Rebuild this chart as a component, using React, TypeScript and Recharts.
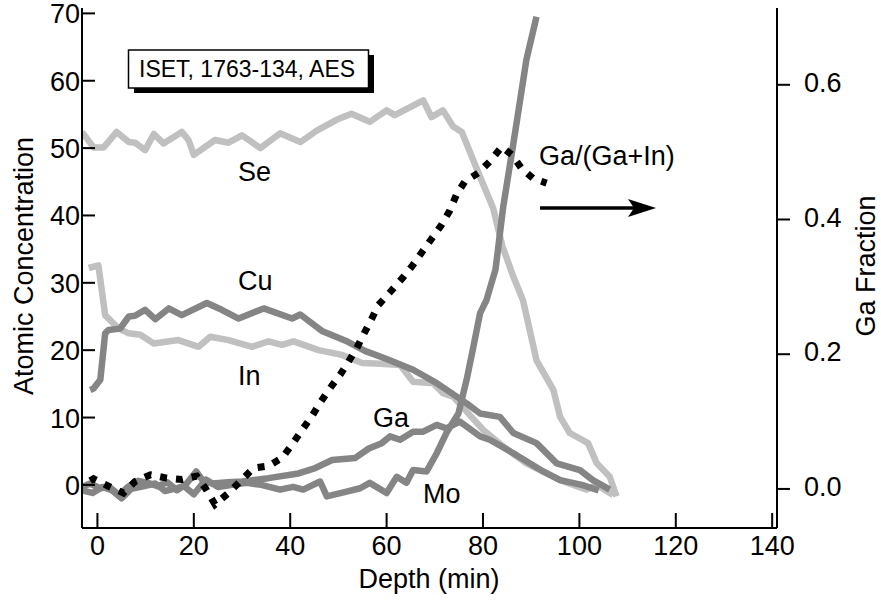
import { Line, LineChart, XAxis, YAxis } from "recharts";

const FONT = "'Liberation Sans', Arial, Helvetica, sans-serif";
const LIGHT = "#c0c0c0";
const DARK = "#858585";

const depthTicks = [0, 20, 40, 60, 80, 100, 120, 140];
const concTicks = [0, 10, 20, 30, 40, 50, 60, 70];
const fracTicks = [0, 0.2, 0.4, 0.6];

const seDepth = [-3.2, -0.8, 1.3, 4.0, 6.5, 7.8, 9.9, 11.7, 13.7, 17.5, 18.9, 20.0, 24.4, 27.2, 30.0, 33.8, 37.9, 42.1, 45.5, 49.6, 52.7, 56.5, 60.0, 61.7, 67.6, 69.3, 71.7, 73.8, 75.6, 79.4, 82.1, 84.0, 86.3, 88.3, 91.1, 94.6, 96.0, 98.0, 101.8, 103.6, 106.3, 107.7];
const seConc = [52.4, 50.1, 50.1, 52.4, 50.9, 50.8, 49.7, 52.1, 50.7, 52.4, 51.2, 49.0, 51.2, 50.8, 51.9, 50.0, 52.2, 50.9, 52.6, 54.2, 55.1, 53.9, 55.6, 54.9, 57.1, 54.6, 55.6, 53.2, 52.4, 45.7, 41.1, 35.5, 30.9, 27.4, 18.5, 14.1, 10.1, 7.7, 6.2, 3.2, 1.2, -1.7];

const cuDepth = [-1.5, -0.8, 0.6, 1.6, 2.3, 4.7, 6.5, 7.8, 9.9, 12.0, 14.8, 17.5, 22.7, 25.8, 29.3, 34.5, 40.4, 42.1, 46.7, 51.5, 55.5, 60.0, 65.5, 70.4, 76.6, 79.4, 83.5, 86.3, 91.1, 95.3, 100.1, 102.8, 106.3];
const cuConc = [14.1, 14.3, 15.6, 22.5, 23.0, 23.2, 25.0, 25.1, 26.0, 24.6, 26.2, 25.2, 27.0, 26.0, 24.7, 26.2, 24.7, 25.3, 22.8, 21.4, 19.9, 18.7, 17.1, 15.1, 12.1, 10.6, 10.1, 7.7, 6.2, 3.2, 2.2, 0.7, -0.7];

const inDepth = [-1.8, 0.2, 1.6, 4.4, 6.5, 8.9, 11.7, 16.8, 21.0, 23.4, 27.2, 32.1, 35.5, 38.3, 40.7, 45.9, 50.7, 54.9, 58.8, 62.8, 65.5, 69.7, 71.7, 73.8, 80.0, 84.2, 89.0, 91.8, 96.0, 101.5, 103.6, 107.0];
const inConc = [32.2, 32.6, 25.2, 23.2, 22.5, 22.3, 21.0, 21.5, 20.5, 22.0, 21.5, 20.5, 21.3, 20.8, 21.3, 20.0, 19.3, 18.1, 18.0, 17.8, 15.3, 15.1, 13.6, 13.1, 8.2, 5.7, 3.2, 2.2, 0.7, -0.7, 0.0, -1.5];

const gaDepth = [-3.2, -1.5, 0.5, 2.5, 4.5, 6.5, 8.5, 10.5, 12.5, 14.5, 16.5, 18.5, 20.5, 22.0, 24.0, 27.0, 30.0, 35.5, 41.7, 45.2, 48.7, 53.5, 56.3, 59.0, 60.7, 62.8, 65.5, 67.6, 70.4, 72.4, 75.2, 79.4, 81.4, 86.3, 89.0, 92.5, 96.0, 100.5, 104.0];
const gaConc = [-0.3, 0.2, -0.5, -0.3, -1.5, -0.2, 0.6, 0.3, -0.2, 0.4, -0.8, 0.2, 2.0, 0.5, 0.2, 0.4, 0.5, 1.0, 1.7, 2.5, 3.7, 4.0, 5.4, 6.2, 7.2, 6.7, 7.9, 7.9, 8.9, 8.4, 9.4, 7.2, 6.7, 4.7, 3.5, 2.0, 0.7, 0.0, -0.8];

const moDepth = [-3.2, -1.0, 1.0, 3.0, 5.0, 7.0, 9.5, 12.0, 14.0, 16.0, 18.0, 20.0, 22.5, 25.0, 28.0, 31.0, 34.0, 37.9, 40.6, 42.7, 46.2, 47.6, 51.7, 54.5, 56.5, 60.0, 62.1, 64.1, 65.5, 68.3, 70.4, 72.4, 74.9, 76.6, 78.0, 79.4, 80.7, 82.6, 84.2, 86.3, 87.7, 89.0, 91.1];
const moConc = [-0.8, -1.2, -0.3, -0.8, -2.0, -0.6, -0.2, 0.2, -0.9, -0.6, -0.2, -1.4, 0.8, -0.3, 0.0, 0.3, 0.0, -0.7, -0.3, -0.7, 0.5, -1.7, -1.0, -0.5, 0.3, -1.2, 1.2, 0.3, 2.2, 2.0, 4.7, 7.7, 10.6, 15.6, 20.5, 25.5, 27.4, 32.0, 41.3, 50.7, 57.1, 63.1, 69.5];

const fracDepth = [-1.5, -0.8, 2.3, 5.4, 7.8, 11.0, 14.4, 17.5, 20.6, 22.4, 24.4, 27.2, 30.0, 32.4, 35.5, 38.3, 40.4, 42.5, 44.5, 46.2, 48.3, 50.4, 52.1, 53.8, 55.2, 57.0, 58.3, 60.7, 63.4, 65.4, 67.4, 69.3, 71.3, 73.1, 74.5, 76.2, 79.0, 81.4, 83.9, 86.0, 88.0, 90.4, 93.2];
const gaFraction = [0.012, 0.015, 0.004, -0.006, 0.011, 0.021, 0.016, 0.014, 0.019, 0.001, -0.023, -0.006, 0.014, 0.031, 0.034, 0.046, 0.066, 0.088, 0.108, 0.128, 0.15, 0.17, 0.189, 0.209, 0.229, 0.254, 0.273, 0.292, 0.314, 0.332, 0.352, 0.371, 0.391, 0.413, 0.437, 0.456, 0.469, 0.486, 0.508, 0.496, 0.476, 0.461, 0.454];

const pts = (xs: number[], ys: number[]) => xs.map((x, i) => ({ depth: x, value: ys[i] }));

const FS = 27;

function BottomTick({ x, y, payload }: any) {
  return (
    <g>
      <line x1={x} x2={x} y1={y} y2={y - 15} stroke="#000" strokeWidth={2} />
      <text x={x} y={y + 27} textAnchor="middle" fontSize={FS} fontFamily={FONT} fill="#000">
        {payload.value}
      </text>
    </g>
  );
}

function TopTick({ x, y }: any) {
  return <line x1={x} x2={x} y1={y} y2={y + 15} stroke="#000" strokeWidth={2} />;
}

function LeftTick({ x, y, payload }: any) {
  return (
    <g>
      <line x1={x} x2={x + 13} y1={y} y2={y} stroke="#000" strokeWidth={2} />
      <text x={x - 2} y={y + 10} textAnchor="end" fontSize={FS} fontFamily={FONT} fill="#000">
        {payload.value}
      </text>
    </g>
  );
}

function RightTick({ x, y, payload }: any) {
  return (
    <g>
      <line x1={x} x2={x + 13} y1={y} y2={y} stroke="#000" strokeWidth={2} />
      <text x={x + 27} y={y + 7} textAnchor="start" fontSize={FS} fontFamily={FONT} fill="#000">
        {payload.value.toFixed(1)}
      </text>
    </g>
  );
}

const txt = { fontSize: FS, fontFamily: FONT, fill: "#000" };

export default function App() {
  return (
    <div style={{ position: "absolute", left: 0, top: 0, width: 881, height: 601, background: "#fff" }}>
      <LineChart width={881} height={601} margin={{ top: 8, right: 0, bottom: 0, left: 0 }}>
        <XAxis
          dataKey="depth"
          type="number"
          domain={[-3.2, 141]}
          ticks={depthTicks}
          allowDataOverflow
          height={73}
          tickLine={false}
          tickSize={0}
          tickMargin={0}
          tick={<BottomTick />}
          axisLine={{ stroke: "#000", strokeWidth: 2 }}
        />
        <XAxis
          xAxisId="top"
          orientation="top"
          type="number"
          domain={[-3.2, 141]}
          ticks={depthTicks}
          allowDataOverflow
          height={0}
          tickLine={false}
          tickSize={0}
          tickMargin={0}
          tick={<TopTick />}
          axisLine={{ stroke: "#000", strokeWidth: 2 }}
        />
        <YAxis
          yAxisId="left"
          type="number"
          domain={[-6.4, 70.8]}
          ticks={concTicks}
          allowDataOverflow
          width={82}
          tickLine={false}
          tickSize={0}
          tickMargin={0}
          tick={<LeftTick />}
          axisLine={{ stroke: "#000", strokeWidth: 2 }}
        />
        <YAxis
          yAxisId="right"
          orientation="right"
          type="number"
          domain={[-0.058, 0.714]}
          ticks={fracTicks}
          allowDataOverflow
          width={104}
          tickLine={false}
          tickSize={0}
          tickMargin={0}
          tick={<RightTick />}
          axisLine={{ stroke: "#000", strokeWidth: 2 }}
        />
        <Line yAxisId="left" data={pts(seDepth, seConc)} dataKey="value" stroke={LIGHT} strokeWidth={6.5} dot={false} strokeLinejoin="round" isAnimationActive={false} />
        <Line yAxisId="left" data={pts(inDepth, inConc)} dataKey="value" stroke={LIGHT} strokeWidth={6.5} dot={false} strokeLinejoin="round" isAnimationActive={false} />
        <Line yAxisId="left" data={pts(cuDepth, cuConc)} dataKey="value" stroke={DARK} strokeWidth={6.5} dot={false} strokeLinejoin="round" isAnimationActive={false} />
        <Line yAxisId="left" data={pts(gaDepth, gaConc)} dataKey="value" stroke={DARK} strokeWidth={6.5} dot={false} strokeLinejoin="round" isAnimationActive={false} />
        <Line yAxisId="left" data={pts(moDepth, moConc)} dataKey="value" stroke={DARK} strokeWidth={6.5} dot={false} strokeLinejoin="round" isAnimationActive={false} />
        <Line yAxisId="right" data={pts(fracDepth, gaFraction)} dataKey="value" stroke="#000" strokeWidth={7} strokeDasharray="7 9" dot={false} isAnimationActive={false} />
      </LineChart>
      <svg width={881} height={601} style={{ position: "absolute", left: 0, top: 0, pointerEvents: "none" }}>
        <rect x={134} y={55} width={240} height={38} fill="#000" />
        <rect x={128.5} y={50} width={240} height={38} fill="#fff" stroke="#000" strokeWidth={1.5} />
        <text x={139} y={77} fontSize={23} fontFamily={FONT} fill="#000">ISET, 1763-134, AES</text>
        <text x={238} y={181} {...txt}>Se</text>
        <text x={238} y={290} {...txt}>Cu</text>
        <text x={238} y={385} {...txt}>In</text>
        <text x={373} y={427} {...txt}>Ga</text>
        <text x={423} y={503} {...txt}>Mo</text>
        <text x={539} y={165} {...txt}>Ga/(Ga+In)</text>
        <line x1={540} y1={208} x2={636} y2={208} stroke="#000" strokeWidth={3.5} />
        <polygon points="656,208 628,199 634,208 628,217" fill="#000" />
        <text x={429} y={588} textAnchor="middle" {...txt}>Depth (min)</text>
        <text transform="translate(33,266) rotate(-90)" textAnchor="middle" {...txt}>Atomic Concentration</text>
        <text transform="translate(875,266) rotate(-90)" textAnchor="middle" {...txt}>Ga Fraction</text>
      </svg>
    </div>
  );
}
